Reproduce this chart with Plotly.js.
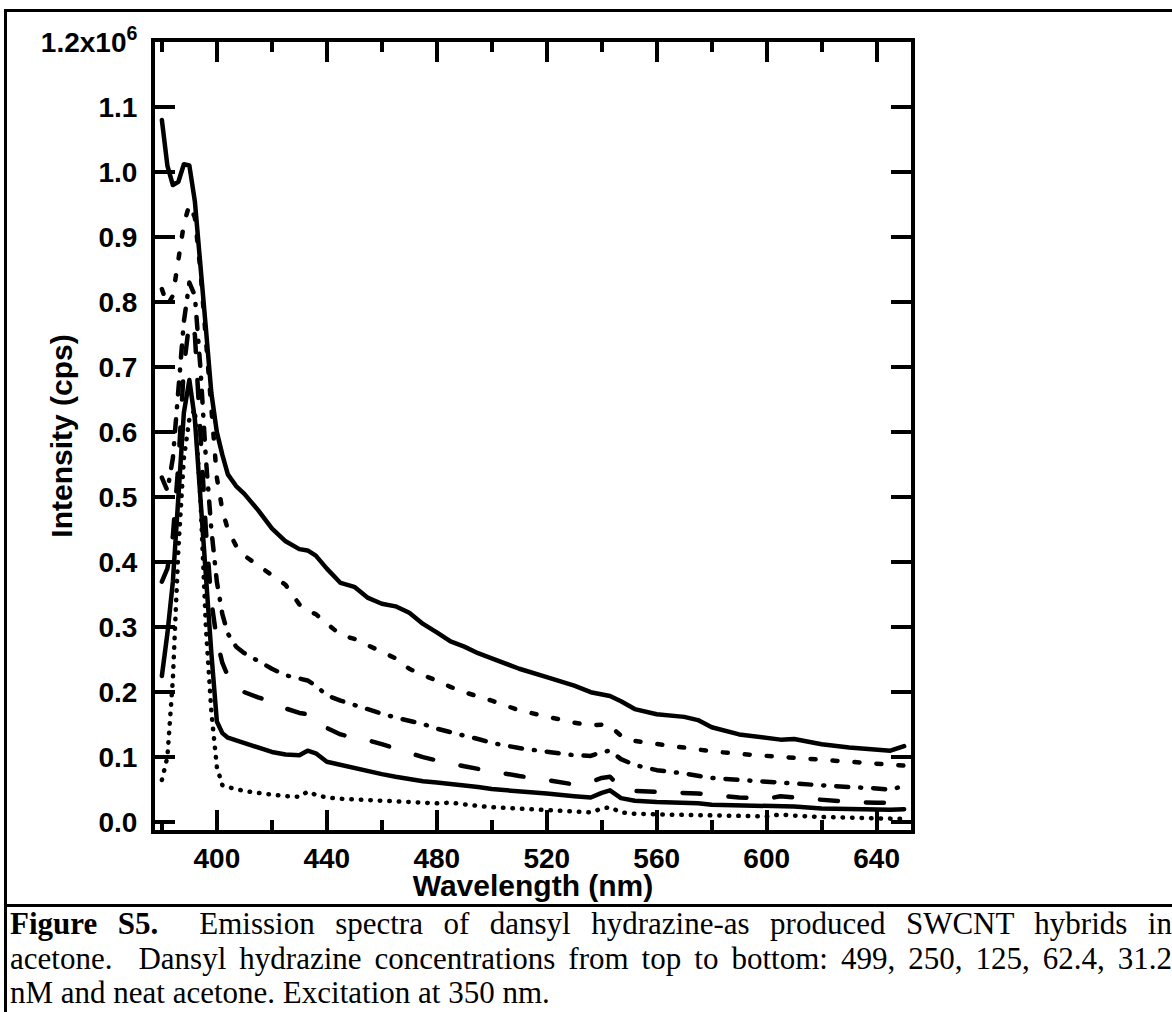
<!DOCTYPE html>
<html>
<head>
<meta charset="utf-8">
<script src="https://cdn.plot.ly/plotly-3.0.1.min.js"></script>
<style>
html,body{margin:0;padding:0;background:#fff;overflow:hidden;width:1172px;height:1012px;}
#frame{position:absolute;left:4px;top:9px;width:1300px;height:1100px;border:3px solid #000;box-sizing:border-box;}
#sep{position:absolute;left:4px;top:904px;width:1300px;height:3px;background:#000;}
#plot{position:absolute;left:0;top:0;width:1172px;height:905px;}
#caption{position:absolute;left:10px;top:907px;width:1162px;font-family:"Liberation Serif","Times New Roman",serif;font-size:31px;line-height:34.5px;color:#000;}
#caption .j{text-align:justify;text-align-last:justify;}
#plot .scatterlayer .js-line{stroke-linecap:round;stroke-linejoin:round;}
#plot .g-ytitle{transform:translateX(-10px);}
#plot .g-xtitle{transform:translateY(3px);}
</style>
</head>
<body>
<div id="frame"></div>
<div id="sep"></div>
<div id="plot"></div>
<div id="caption">
<div class="j"><b>Figure S5.</b>&nbsp; Emission spectra of dansyl hydrazine-as produced SWCNT hybrids in</div>
<div class="j">acetone.&nbsp; Dansyl hydrazine concentrations from top to bottom: 499, 250, 125, 62.4, 31.2</div>
<div>nM and neat acetone. Excitation at 350 nm.</div>
</div>
<script>
// Wavelength grid (nm)
const wavelength = [380,382,384,386,388,390,392,394,396,398,400,402,404,407,410,415,420,425,430,433,436,440,445,450,455,460,465,470,475,480,485,490,495,500,510,520,530,536,540,543,547,552,560,570,575,580,590,600,605,610,620,630,640,645,650];

// Intensity (x10^6 cps)
const conc499 = [1.08,1.01,0.98,0.985,1.012,1.01,0.955,0.865,0.76,0.66,0.60,0.565,0.535,0.517,0.505,0.48,0.452,0.432,0.42,0.418,0.41,0.39,0.368,0.362,0.345,0.336,0.332,0.322,0.305,0.292,0.278,0.27,0.26,0.252,0.236,0.223,0.21,0.2,0.196,0.194,0.186,0.174,0.166,0.162,0.157,0.146,0.135,0.13,0.127,0.128,0.12,0.115,0.112,0.11,0.117];
const conc250 = [0.82,0.795,0.81,0.86,0.92,0.95,0.93,0.85,0.74,0.62,0.53,0.48,0.45,0.425,0.41,0.395,0.38,0.365,0.335,0.325,0.32,0.305,0.288,0.282,0.272,0.262,0.252,0.236,0.226,0.218,0.208,0.2,0.194,0.187,0.172,0.162,0.153,0.149,0.15,0.148,0.133,0.125,0.12,0.115,0.112,0.109,0.105,0.102,0.1,0.099,0.095,0.093,0.09,0.088,0.087];
const conc125 = [0.53,0.51,0.56,0.66,0.77,0.83,0.81,0.7,0.56,0.45,0.37,0.32,0.29,0.27,0.26,0.248,0.236,0.226,0.222,0.218,0.21,0.195,0.187,0.18,0.174,0.167,0.161,0.156,0.151,0.144,0.138,0.133,0.128,0.122,0.114,0.108,0.103,0.102,0.108,0.11,0.097,0.088,0.08,0.075,0.072,0.068,0.065,0.062,0.061,0.06,0.056,0.054,0.052,0.05,0.056];
const conc62 = [0.37,0.39,0.44,0.55,0.7,0.77,0.75,0.6,0.45,0.34,0.28,0.245,0.225,0.21,0.2,0.192,0.185,0.175,0.168,0.166,0.16,0.145,0.135,0.13,0.126,0.12,0.113,0.107,0.1,0.095,0.09,0.086,0.082,0.078,0.071,0.065,0.058,0.062,0.068,0.07,0.052,0.048,0.047,0.045,0.044,0.042,0.038,0.036,0.04,0.038,0.035,0.031,0.03,0.03,0.034];
const conc31 = [0.225,0.29,0.37,0.5,0.63,0.68,0.62,0.5,0.37,0.26,0.155,0.137,0.13,0.126,0.122,0.116,0.108,0.104,0.103,0.11,0.106,0.093,0.088,0.084,0.078,0.074,0.07,0.066,0.063,0.061,0.059,0.057,0.054,0.051,0.048,0.044,0.04,0.038,0.045,0.049,0.037,0.033,0.031,0.03,0.029,0.027,0.026,0.025,0.024,0.024,0.021,0.02,0.019,0.019,0.02];
const acetone = [0.065,0.1,0.22,0.42,0.56,0.62,0.635,0.5,0.3,0.17,0.085,0.057,0.054,0.051,0.048,0.045,0.042,0.04,0.039,0.047,0.042,0.038,0.036,0.035,0.033,0.032,0.031,0.03,0.029,0.029,0.03,0.027,0.025,0.023,0.021,0.019,0.017,0.015,0.021,0.023,0.015,0.013,0.012,0.011,0.011,0.01,0.009,0.009,0.012,0.01,0.008,0.007,0.006,0.006,0.005];

const seriesNames = ['499 nM','250 nM','125 nM','62.4 nM','31.2 nM','neat acetone'];
const seriesValues = [conc499, conc250, conc125, conc62, conc31, acetone];

const xTickVals = [400,440,480,520,560,600,640];
const xTickText = ['400','440','480','520','560','600','640'];
const xMinorVals = [380,420,460,500,540,580,620];
const yTickVals = [0,0.1,0.2,0.3,0.4,0.5,0.6,0.7,0.8,0.9,1.0,1.1,1.2];
const yTickText = ['0.0','0.1','0.2','0.3','0.4','0.5','0.6','0.7','0.8','0.9','1.0','1.1','1.2x10<sup>6</sup>'];

const dashes = ['solid','5px,17px','12px,12px,1px,12px','18px,28px','solid','0.5px,9px'];

const traces = seriesValues.map((v,i)=>({
  x: wavelength, y: v, name: seriesNames[i], type:'scatter', mode:'lines',
  line:{color:'#000', width:4.5, dash:dashes[i]}
}));

const fontFam = 'Liberation Sans, Arial, sans-serif';
const axisCommon = {
  showline:true, linewidth:4, linecolor:'#000', mirror:'ticks',
  ticks:'inside', ticklen:20, tickwidth:4, tickcolor:'#000',
  showgrid:false, zeroline:false,
  tickfont:{family:fontFam, size:28, color:'#000', weight:'bold'}
};
const layout = {
  width:1172, height:905,
  margin:{l:155, r:261, t:42, b:75, pad:0},
  paper_bgcolor:'rgba(0,0,0,0)', plot_bgcolor:'rgba(0,0,0,0)',
  showlegend:false,
  font:{family:fontFam, color:'#000'},
  xaxis:Object.assign({}, axisCommon, {
    range:[377.5,652.5], tickmode:'array', tickvals:xTickVals, ticktext:xTickText,
    ticklabelstandoff:0,
    minor:{tickmode:'array', tickvals:xMinorVals, ticks:'inside', ticklen:10, tickwidth:4, tickcolor:'#000'},
    title:{text:'Wavelength (nm)', font:{family:fontFam, size:30, color:'#000', weight:'bold'}, standoff:0}
  }),
  yaxis:Object.assign({}, axisCommon, {
    range:[-0.012,1.2], tickmode:'array', tickvals:yTickVals, ticktext:yTickText,
    ticklabelstandoff:8,
    title:{text:'Intensity (cps)', font:{family:fontFam, size:30, color:'#000', weight:'bold'}}
  })
};
Plotly.newPlot('plot', traces, layout, {displayModeBar:false, staticPlot:true});
</script>
</body>
</html>
